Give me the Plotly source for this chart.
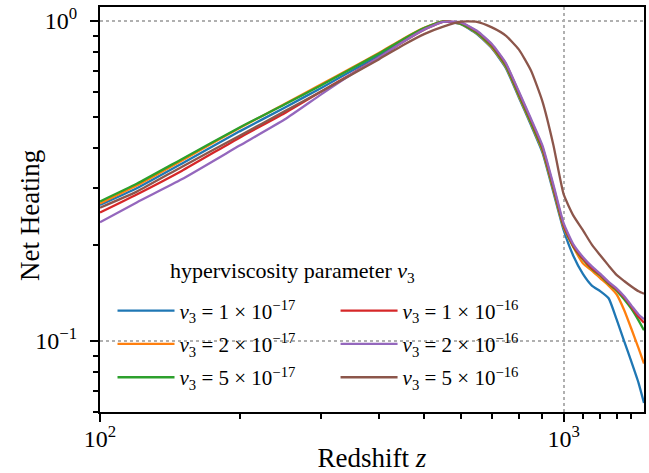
import plotly.graph_objects as go
import math

# Redshift grid
z = [100, 120, 150, 200, 250, 300, 350, 400, 450, 500, 550, 600, 650, 700, 750,
     800, 850, 900, 950, 1000, 1050, 1100, 1150, 1200, 1250, 1300, 1350, 1400, 1450, 1490]

heat_1e17 = [0.266, 0.300, 0.358, 0.452, 0.536, 0.618, 0.700, 0.782, 0.868, 0.945, 0.996, 0.978, 0.910, 0.822, 0.714,
             0.578, 0.473, 0.388, 0.292, 0.222, 0.184, 0.162, 0.149, 0.143, 0.136, 0.117, 0.100, 0.086, 0.074, 0.064]
heat_2e17 = [0.269, 0.306, 0.366, 0.463, 0.550, 0.634, 0.715, 0.795, 0.879, 0.952, 0.998, 0.980, 0.915, 0.827, 0.720,
             0.583, 0.478, 0.393, 0.296, 0.226, 0.196, 0.175, 0.166, 0.157, 0.149, 0.140, 0.125, 0.109, 0.095, 0.085]
heat_5e17 = [0.273, 0.310, 0.370, 0.465, 0.548, 0.630, 0.712, 0.792, 0.876, 0.950, 0.997, 0.980, 0.918, 0.832, 0.725,
             0.588, 0.482, 0.397, 0.299, 0.228, 0.197, 0.180, 0.168, 0.160, 0.151, 0.144, 0.135, 0.126, 0.116, 0.108]
heat_1e16 = [0.252, 0.287, 0.340, 0.432, 0.515, 0.602, 0.686, 0.770, 0.860, 0.940, 0.993, 0.988, 0.928, 0.842, 0.735,
             0.598, 0.490, 0.403, 0.304, 0.230, 0.198, 0.181, 0.169, 0.161, 0.152, 0.145, 0.137, 0.128, 0.119, 0.114]
heat_2e16 = [0.235, 0.271, 0.320, 0.408, 0.492, 0.590, 0.684, 0.770, 0.860, 0.940, 0.993, 0.990, 0.932, 0.847, 0.740,
             0.603, 0.495, 0.408, 0.308, 0.233, 0.200, 0.183, 0.171, 0.162, 0.153, 0.146, 0.138, 0.129, 0.121, 0.117]
heat_5e16 = [0.261, 0.293, 0.350, 0.438, 0.522, 0.602, 0.682, 0.760, 0.840, 0.910, 0.960, 0.995, 0.994, 0.955, 0.900,
             0.815, 0.700, 0.560, 0.410, 0.287, 0.246, 0.222, 0.200, 0.185, 0.172, 0.161, 0.154, 0.148, 0.143, 0.1405]

labels = ["<i>ν</i><sub>3</sub> = 1 × 10<sup>−17</sup>",
          "<i>ν</i><sub>3</sub> = 2 × 10<sup>−17</sup>",
          "<i>ν</i><sub>3</sub> = 5 × 10<sup>−17</sup>",
          "<i>ν</i><sub>3</sub> = 1 × 10<sup>−16</sup>",
          "<i>ν</i><sub>3</sub> = 2 × 10<sup>−16</sup>",
          "<i>ν</i><sub>3</sub> = 5 × 10<sup>−16</sup>"]
series = [heat_1e17, heat_2e17, heat_5e17, heat_1e16, heat_2e16, heat_5e16]
colors = ["#1f77b4", "#ff7f0e", "#2ca02c", "#d62728", "#9467bd", "#8c564b"]
legend_ids = ["legend", "legend", "legend", "legend2", "legend2", "legend2"]

x_tickvals = [100, 1000]
x_ticktext = ["10<sup>2</sup>", "10<sup>3</sup>"]
x_minor = [200, 300, 400, 500, 600, 700, 800, 900, 1100, 1200, 1300, 1400]
y_tickvals = [0.1, 1.0]
y_ticktext = ["10<sup>−1</sup>", "10<sup>0</sup>"]
y_minor = [0.06, 0.07, 0.08, 0.09, 0.2, 0.3, 0.4, 0.5, 0.6, 0.7, 0.8, 0.9]

FONT = "Liberation Serif"

fig = go.Figure()
for i, (vals, name, col, lg) in enumerate(zip(series, labels, colors, legend_ids)):
    fig.add_trace(go.Scatter(
        x=z, y=vals, mode="lines", name=name,
        line=dict(color=col, width=2.3, shape="spline", smoothing=0.5),
        legend=lg, legendgroup=f"g{i}", showlegend=True,
    ))

axis_common = dict(
    type="log", showline=True, linecolor="black", linewidth=2, mirror=True,
    ticks="outside", ticklen=8, tickwidth=1.8, tickcolor="black",
    showgrid=True, gridcolor="#b0b0b0", griddash="dot", gridwidth=1.5,
    zeroline=False, tickfont=dict(family=FONT, size=24, color="black"),
    tickmode="array", automargin=False,
)

fig.update_layout(
    width=649, height=473,
    margin=dict(l=100, r=5, t=7, b=61),
    paper_bgcolor="white", plot_bgcolor="white",
    font=dict(family=FONT, color="black"),
    xaxis=dict(**axis_common, range=[2, math.log10(1490)],
               tickvals=x_tickvals, ticktext=x_ticktext, ticklabelstandoff=-4,
               minor=dict(tickmode="array", tickvals=x_minor, ticks="outside",
                          ticklen=5, tickwidth=1.5, tickcolor="black", showgrid=False),
               title=dict(text="Redshift <i>z</i>", font=dict(family=FONT, size=27), standoff=0)),
    yaxis=dict(**axis_common, range=[math.log10(0.06), math.log10(1.106)],
               tickvals=y_tickvals, ticktext=y_ticktext, ticklabelstandoff=8,
               minor=dict(tickmode="array", tickvals=y_minor, ticks="outside",
                          ticklen=5, tickwidth=1.5, tickcolor="black", showgrid=False)),
    legend=dict(x=0.023, y=0.30, xanchor="left", yanchor="top", bgcolor="rgba(0,0,0,0)",
                font=dict(family=FONT, size=21), itemwidth=57, tracegroupgap=3,
                traceorder="grouped"),
    legend2=dict(x=0.433, y=0.30, xanchor="left", yanchor="top", bgcolor="rgba(0,0,0,0)",
                 font=dict(family=FONT, size=21), itemwidth=57, tracegroupgap=3,
                 traceorder="grouped"),
    annotations=[
        dict(text="hyperviscosity parameter <i>ν</i><sub>3</sub>",
             x=0.3545, y=0.345, xref="paper", yref="paper",
             xanchor="center", yanchor="middle", showarrow=False,
             font=dict(family=FONT, size=22, color="black")),
        dict(text="Net Heating", textangle=-90,
             x=-0.129, y=0.486, xref="paper", yref="paper",
             xanchor="center", yanchor="middle", showarrow=False,
             font=dict(family=FONT, size=27, color="black")),
    ],
)

fig.write_html("out.html")
